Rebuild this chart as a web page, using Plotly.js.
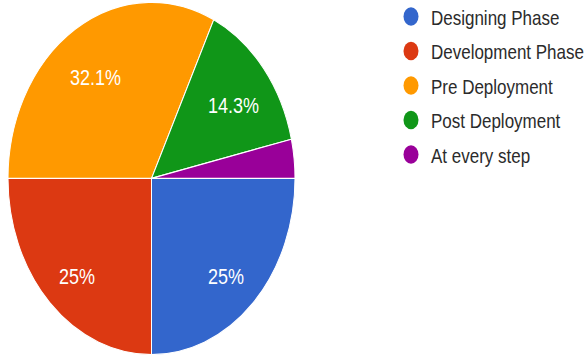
<!DOCTYPE html>
<html>
<head>
<meta charset="utf-8">
<script src="https://cdn.plot.ly/plotly-3.0.1.min.js"></script>
<style>
  html, body { margin: 0; padding: 0; background: #ffffff; overflow: hidden; }
  #wrap { width: 588px; height: 356px; overflow: hidden; }
  #chart { width: 588px; height: 290px; transform: scaleY(1.2276); transform-origin: 0 0; }
</style>
</head>
<body>
<div id="wrap"><div id="chart"></div></div>
<script>
const categories = ["Designing Phase", "Development Phase", "Pre Deployment", "Post Deployment", "At every step"];
const responses = [7, 7, 9, 4, 1];
const colors = ["#3366cc", "#dc3912", "#ff9900", "#109618", "#990099"];
const labelShown = [true, true, true, true, false];

const W = 588, H = 290;
const pieDomainX = [8 / W, 295 / W];
const pieDomainY = [0.003, 0.9945];

const pie = {
  type: "pie",
  labels: categories,
  values: responses,
  sort: false,
  direction: "clockwise",
  rotation: 90,
  marker: { colors: colors, line: { color: "#ffffff", width: 1 } },
  textinfo: "none",
  showlegend: false,
  hoverinfo: "label+percent",
  domain: { x: pieDomainX, y: pieDomainY }
};

const legendTraces = categories.map((name, i) => ({
  type: "scatter",
  mode: "markers",
  x: [null],
  y: [null],
  name: name,
  legendgroup: "g" + i,
  marker: { symbol: "circle", size: 15, color: colors[i] },
  showlegend: true,
  hoverinfo: "skip"
}));

// percentage labels placed along each slice's bisector, derived from the data
const total = responses.reduce((a, b) => a + b, 0);
const cxPx = (pieDomainX[0] + pieDomainX[1]) / 2 * W;
const cyPx = (1 - (pieDomainY[0] + pieDomainY[1]) / 2) * H;
const rPx = Math.min((pieDomainX[1] - pieDomainX[0]) * W, (pieDomainY[1] - pieDomainY[0]) * H) / 2;
const labelRadius = 0.73;
const annotations = [];
let cum = 0;
responses.forEach((v, i) => {
  const frac = v / total;
  const midDeg = 90 + (cum + frac / 2) * 360; // clockwise from 12 o'clock, start at 3 o'clock
  cum += frac;
  if (!labelShown[i]) return;
  const a = midDeg * Math.PI / 180;
  const px = cxPx + Math.sin(a) * rPx * labelRadius;
  const py = cyPx - Math.cos(a) * rPx * labelRadius;
  annotations.push({
    xref: "paper", yref: "paper",
    x: px / W, y: 1 - py / H,
    xanchor: "center", yanchor: "middle",
    yshift: -6,
    showarrow: false,
    text: Number((frac * 100).toPrecision(3)) + "%",
    font: { family: "Liberation Sans, Arial, sans-serif", size: 18, color: "#ffffff" }
  });
});

const layout = {
  width: W,
  height: H,
  margin: { l: 0, r: 0, t: 0, b: 0, autoexpand: false },
  paper_bgcolor: "#ffffff",
  plot_bgcolor: "#ffffff",
  xaxis: { visible: false },
  yaxis: { visible: false },
  showlegend: true,
  annotations: annotations,
  legend: {
    x: 391 / W,
    xanchor: "left",
    y: 1.014,
    yanchor: "top",
    tracegroupgap: 3,
    font: { family: "Liberation Sans, Arial, sans-serif", size: 17, color: "#2b2b2b" },
    bgcolor: "rgba(0,0,0,0)",
    itemclick: false,
    itemdoubleclick: false
  }
};

Plotly.newPlot("chart", [pie].concat(legendTraces), layout, { displayModeBar: false, staticPlot: true });
</script>
</body>
</html>
